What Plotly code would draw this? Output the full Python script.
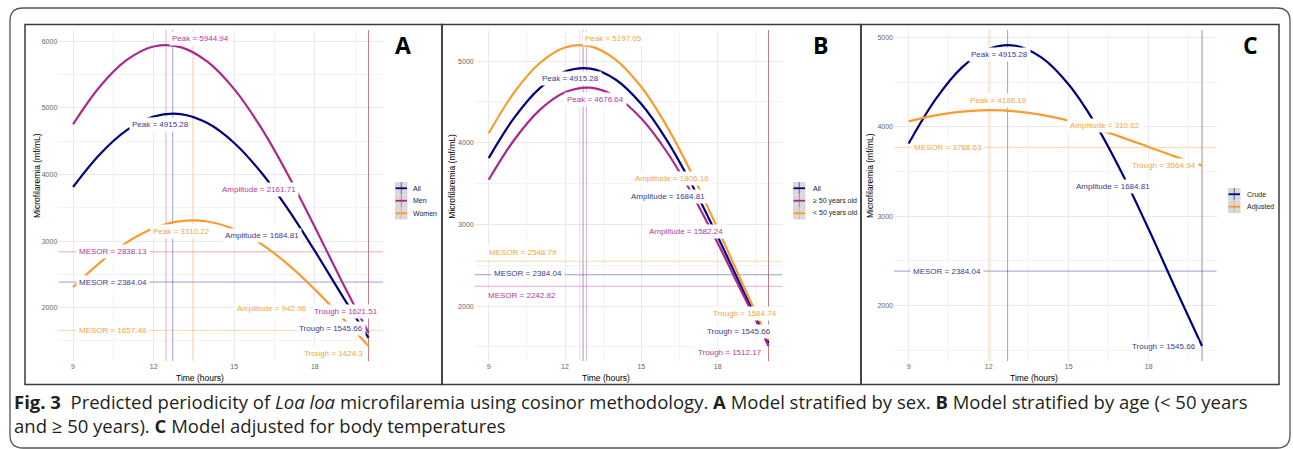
import plotly.graph_objects as go

W, H = 1293, 449

# ---- values ----
hours = [9, 10, 11, 12, 13, 14, 15, 16, 17, 18, 19, 20]

# predicted microfilaremia (mf/mL), hourly along each curve
mf_all = [3812.7, 4304.4, 4665.9, 4871.7, 4908.0, 4772.2, 4473.8, 4033.1, 3479.8, 2851.8, 2192.1, 1545.66]
mf_men = [4755.0, 5322.6, 5720.6, 5922.4, 5913.9, 5695.7, 5282.9, 4703.4, 3996.9, 3211.2, 2400.4, 1621.51]
mf_women = [2305.9, 2677.2, 2979.2, 3190.9, 3298.3, 3293.7, 3177.7, 2958.1, 2649.8, 2274.0, 1856.0, 1424.3]
mf_old = [3546.8, 4034.3, 4399.6, 4618.0, 4674.5, 4565.2, 4297.7, 3890.2, 3370.4, 2773.6, 2140.9, 1512.17]
mf_young = [4116.6, 4615.5, 4973.8, 5166.6, 5181.1, 5016.2, 4683.0, 4204.5, 3613.1, 2949.5, 2258.3, 1584.74]
mf_adj = [4060.1, 4127.5, 4170.5, 4186.2, 4173.3, 4132.9, 4067.7, 3982.1, 3881.9, 3774.1, 3665.8, 3564.94]

# cosinor summaries
peak_time = {"all": 12.71, "men": 12.46, "women": 13.46, "old": 12.84, "young": 12.58, "adj": 12.05}
peak = {"all": 4915.28, "men": 5944.94, "women": 3310.22, "old": 4676.64, "young": 5197.05, "adj": 4186.19}
mesor = {"all": 2384.04, "men": 2838.13, "women": 1657.48, "old": 2242.82, "young": 2548.79, "adj": 3768.63}
amplitude = {"all": 1684.81, "men": 2161.71, "women": 942.96, "old": 1582.24, "young": 1806.16, "adj": 310.62}
trough = {"all": 1545.66, "men": 1621.51, "women": 1424.3, "old": 1512.17, "young": 1584.74, "adj": 3564.94}
trough_time = 20

NAVY, MAG, ORG = "#000080", "#AD2790", "#F79C30"
TXT = {NAVY: "#3a3a8e", MAG: "#b43a98", ORG: "#f3a445"}


def rgba(hexc, a):
    h = hexc.lstrip("#")
    r, g, b = int(h[0:2], 16), int(h[2:4], 16), int(h[4:6], 16)
    return f"rgba({r},{g},{b},{a})"


def px(x):
    return x / W


def py(y):
    return 1 - y / H


def note(x, y, text, size, color="#111", **kw):
    # paper-anchored text, centred unless told otherwise
    d = dict(x=px(x), y=py(y), xref="paper", yref="paper", showarrow=False, text=text,
             xanchor="center", yanchor="middle", font=dict(size=size, color=color))
    d.update(kw)
    return d


panels = [
    dict(letter="A", xd=(58.3, 383.3), yr=(1198, 6171),
         series=[("all", "All", mf_all, NAVY), ("men", "Men", mf_men, MAG),
                 ("women", "Women", mf_women, ORG)],
         labels=[("Peak", "men", 13.76, 6041), ("Peak", "all", 12.25, 4756),
                 ("Amplitude", "men", 15.91, 3777), ("Peak", "women", 13.05, 3149),
                 ("Amplitude", "all", 16.04, 3089), ("MESOR", "men", 10.49, 2838),
                 ("MESOR", "all", 10.49, 2384), ("Amplitude", "women", 16.39, 1985),
                 ("Trough", "men", 19.15, 1944), ("Trough", "all", 18.6, 1693),
                 ("MESOR", "women", 10.49, 1657), ("Trough", "women", 18.68, 1307)],
         legend=(395, 182, 411.5), letter_xy=(403, 45), ytitle_x=37, xtitle=(199.5, 377.5)),
    dict(letter="B", xd=(474.7, 782.5), yr=(1328, 5381),
         series=[("all", "All", mf_all, NAVY), ("old", "≥ 50 years old", mf_old, MAG),
                 ("young", "< 50 years old", mf_young, ORG)],
         labels=[("Peak", "young", 13.90, 5273), ("Peak", "all", 12.2, 4792),
                 ("Peak", "old", 13.21, 4526), ("Amplitude", "young", 16.19, 3557),
                 ("Amplitude", "all", 16.06, 3340), ("Amplitude", "old", 16.75, 2911),
                 ("MESOR", "young", 10.33, 2658), ("MESOR", "all", 10.56, 2401),
                 ("MESOR", "old", 10.31, 2126), ("Trough", "young", 19.09, 1914),
                 ("Trough", "all", 18.85, 1694), ("Trough", "old", 18.5, 1433)],
         legend=(793, 182, 811), letter_xy=(820, 45), ytitle_x=451.7, xtitle=(606.3, 377.5)),
    dict(letter="C", xd=(894, 1216.7), yr=(1377, 5084),
         series=[("all", "Crude", mf_all, NAVY), ("adj", "Adjusted", mf_adj, ORG)],
         labels=[("Peak", "all", 12.40, 4810), ("Peak", "adj", 12.38, 4290),
                 ("Amplitude", "adj", 16.35, 4015), ("MESOR", "adj", 10.49, 3768),
                 ("Trough", "adj", 18.57, 3562), ("Amplitude", "all", 16.67, 3327),
                 ("MESOR", "all", 10.44, 2383), ("Trough", "all", 18.57, 1543)],
         legend=(1228, 188, 1245), letter_xy=(1250, 45), ytitle_x=870, xtitle=(1034, 377.5)),
]

stat = {"Peak": peak, "Amplitude": amplitude, "MESOR": mesor, "Trough": trough}

fig = go.Figure()
shapes, annots = [], []
layout_axes = {}
ydom = [py(361), py(30)]

for i, p in enumerate(panels, start=1):
    sfx = "" if i == 1 else str(i)
    xa, ya = "x" + sfx, "y" + sfx
    colors = {k: c for k, _, _, c in p["series"]}

    layout_axes["xaxis" + sfx] = dict(
        domain=[px(p["xd"][0]), px(p["xd"][1])], anchor=ya, range=[8.45, 20.55],
        tick0=0, dtick=3, showgrid=True, gridcolor="#e9e9ee", gridwidth=1,
        minor=dict(tick0=0, dtick=1.5, showgrid=True, gridcolor="#f3f3f6", gridwidth=1),
        zeroline=False, showline=False, ticks="",
        tickfont=dict(size=7, color="#666"),
    )
    layout_axes["yaxis" + sfx] = dict(
        domain=ydom, anchor=xa, range=list(p["yr"]),
        tick0=0, dtick=1000, showgrid=True, gridcolor="#e9e9ee", gridwidth=1,
        minor=dict(tick0=0, dtick=500, showgrid=True, gridcolor="#f3f3f6", gridwidth=1),
        zeroline=False, showline=False, ticks="",
        tickfont=dict(size=7, color="#666"),
    )

    # reference lines: peak time, trough time, MESOR (drawn as traces under the curves)
    for k, _, _, c in p["series"]:
        for t in (peak_time[k], trough_time):
            fig.add_trace(go.Scatter(x=[t, t], y=list(p["yr"]), mode="lines",
                                     line=dict(color=rgba(c, 0.38), width=1),
                                     xaxis=xa, yaxis=ya, showlegend=False, hoverinfo="skip"))
        fig.add_trace(go.Scatter(x=[8.45, 20.55], y=[mesor[k], mesor[k]], mode="lines",
                                 line=dict(color=rgba(c, 0.38), width=1),
                                 xaxis=xa, yaxis=ya, showlegend=False, hoverinfo="skip"))

    # fitted curves
    for k, name, vals, c in p["series"]:
        fig.add_trace(go.Scatter(x=hours, y=vals, mode="lines", name=name,
                                 line=dict(color=c, width=2.2, shape="spline"),
                                 xaxis=xa, yaxis=ya, showlegend=False, hoverinfo="skip"))

    # value labels
    for kind, k, t, v in p["labels"]:
        annots.append(dict(
            x=t, y=v, xref=xa, yref=ya, showarrow=False, xanchor="center", yanchor="middle",
            text=f"{kind} = {stat[kind][k]:g}",
            font=dict(size=8, color=TXT[colors[k]], family="Liberation Sans"),
            bgcolor="white", borderpad=2,
        ))

    # legend keys
    lx, ly, tx = p["legend"]
    kh, kw = 12.5, 12.5
    for j, (k, name, _, c) in enumerate(p["series"]):
        y0 = ly + j * kh
        shapes.append(dict(type="rect", xref="paper", yref="paper",
                           x0=px(lx), x1=px(lx + kw), y0=py(y0), y1=py(y0 + kh),
                           fillcolor="#d9d9d9", line=dict(width=0)))
        shapes.append(dict(type="line", xref="paper", yref="paper",
                           x0=px(lx + kw / 2), x1=px(lx + kw / 2), y0=py(y0), y1=py(y0 + kh),
                           line=dict(color=rgba(c, 0.55), width=1)))
        shapes.append(dict(type="line", xref="paper", yref="paper",
                           x0=px(lx + 0.5), x1=px(lx + kw - 0.5),
                           y0=py(y0 + kh / 2), y1=py(y0 + kh / 2),
                           line=dict(color=c, width=1.8)))
        annots.append(note(tx, y0 + kh / 2, name, 7, "#222", xanchor="left"))

    # panel letter and axis titles
    lt = note(p["letter_xy"][0], p["letter_xy"][1], f"<b>{p['letter']}</b>", 23, "black")
    lt["font"]["family"] = "Open Sans"
    annots.append(lt)
    annots.append(note(p["ytitle_x"], 176, "Microfilaremia (mf/mL)", 8.5, "#000", textangle=-90))
    annots.append(note(p["xtitle"][0], p["xtitle"][1], "Time (hours)", 8.5, "#000"))

# panel frames
for x0, x1 in [(25, 442), (442, 861), (861, 1279)]:
    shapes.append(dict(type="rect", xref="paper", yref="paper",
                       x0=px(x0), x1=px(x1), y0=py(24.5), y1=py(384.5),
                       line=dict(color="#3a3a3a", width=1.5), fillcolor="rgba(0,0,0,0)"))

# outer rounded box
r = 13
L, R, T, B = 10, 1290, 8, 448
path = (f"M {px(L)},{py(T + r)} Q {px(L)},{py(T)} {px(L + r)},{py(T)} "
        f"L {px(R - r)},{py(T)} Q {px(R)},{py(T)} {px(R)},{py(T + r)} "
        f"L {px(R)},{py(B - r)} Q {px(R)},{py(B)} {px(R - r)},{py(B)} "
        f"L {px(L + r)},{py(B)} Q {px(L)},{py(B)} {px(L)},{py(B - r)} Z")
shapes.append(dict(type="path", xref="paper", yref="paper", path=path,
                   line=dict(color="#555", width=1.3)))

# caption
caption = ("<b>Fig. 3</b>&nbsp;&nbsp;Predicted periodicity of <i>Loa loa</i> microfilaremia using cosinor "
           "methodology. <b>A</b> Model stratified by sex. <b>B</b> Model stratified by age (&lt; 50 years"
           "<br>and ≥ 50 years). <b>C</b> Model adjusted for body temperatures")
cap = note(12, 413, caption, 18.5, "#231f20", xanchor="left", align="left")
cap["font"]["family"] = "Open Sans"
annots.append(cap)

fig.update_layout(
    width=W, height=H, margin=dict(l=0, r=0, t=0, b=0),
    paper_bgcolor="white", plot_bgcolor="white", showlegend=False,
    font=dict(family="Liberation Sans", color="#333"),
    shapes=shapes, annotations=annots, **layout_axes,
)

fig.write_html("out.html", config={"displayModeBar": False},
               post_script="document.body.style.margin='0px';")
